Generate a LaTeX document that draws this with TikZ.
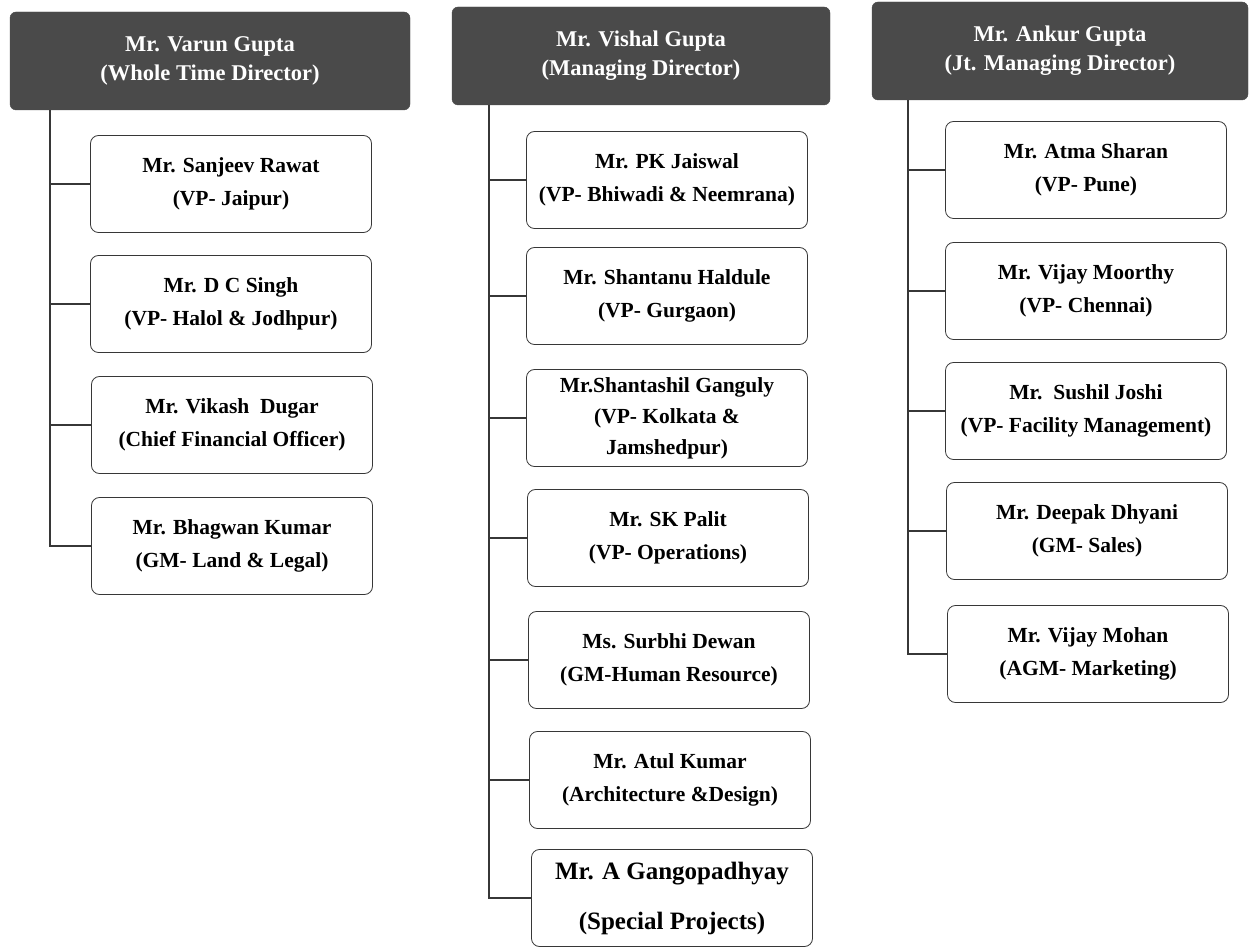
\documentclass[tikz,border=0pt]{standalone}
\usepackage{fontspec}
\setmainfont{Liberation Serif}
\definecolor{headgray}{RGB}{74,74,74}
\definecolor{linegray}{RGB}{55,55,55}

\begin{document}
\begin{tikzpicture}[x=1pt, y=-1pt,
    head/.style={draw=headgray, fill=headgray, rounded corners=6pt, text=white,
      font=\fontsize{22.5}{29}\selectfont\bfseries, align=center,
      minimum width=378pt, minimum height=98pt, inner sep=0pt},
    member/.style={draw=linegray, line width=0.8pt, rounded corners=8pt,
      font=\fontsize{21.5}{33}\selectfont\bfseries, align=center,
      minimum width=281pt, minimum height=97pt, inner sep=0pt},
    link/.style={draw=linegray, line width=1.1pt}]
    \useasboundingbox (0,0) rectangle (1254,949);

    % directors
    \node[head, minimum width=400pt] (HeadA) at (210,61) {Mr. Varun Gupta\\(Whole Time Director)};
    \node[head] (HeadB) at (641,56) {Mr. Vishal Gupta\\(Managing Director)};
    \node[head, minimum width=376pt] (HeadC) at (1060,51) {Mr. Ankur Gupta\\(Jt. Managing Director)};

    % first column
    \node[member] (A1) at (231,184) {Mr. Sanjeev Rawat\\(VP- Jaipur)};
    \node[member] (A2) at (231,304) {Mr. D C Singh\\(VP- Halol \& Jodhpur)};
    \node[member] (A3) at (232,425) {Mr. Vikash\ \ Dugar\\(Chief Financial Officer)};
    \node[member] (A4) at (232,546) {Mr. Bhagwan Kumar\\(GM- Land \& Legal)};

    % second column
    \node[member] (B1) at (667,180) {Mr. PK Jaiswal\\(VP- Bhiwadi \& Neemrana)};
    \node[member] (B2) at (667,296) {Mr. Shantanu Haldule\\(VP- Gurgaon)};
    \node[member, font=\fontsize{21.5}{31}\selectfont\bfseries] (B3) at (667,418)
      {Mr.Shantashil Ganguly\\(VP- Kolkata \&\\Jamshedpur)};
    \node[member] (B4) at (668,538) {Mr. SK Palit\\(VP- Operations)};
    \node[member] (B5) at (669,660) {Ms. Surbhi Dewan\\(GM-Human Resource)};
    \node[member] (B6) at (670,780) {Mr. Atul Kumar\\(Architecture \&Design)};
    \node[member, font=\fontsize{25}{50}\selectfont\bfseries] (B7) at (672,898)
      {Mr. A Gangopadhyay\\(Special Projects)};

    % third column
    \node[member] (C1) at (1086,170) {Mr. Atma Sharan\\(VP- Pune)};
    \node[member] (C2) at (1086,291) {Mr. Vijay Moorthy\\(VP- Chennai)};
    \node[member] (C3) at (1086,411) {Mr.\ \ Sushil Joshi\\(VP- Facility Management)};
    \node[member] (C4) at (1087,531) {Mr. Deepak Dhyani\\(GM- Sales)};
    \node[member] (C5) at (1088,654) {Mr. Vijay Mohan\\(AGM- Marketing)};

    % trunks
    \coordinate (TrunkA) at (HeadA.south -| 50,0);
    \coordinate (TrunkB) at (HeadB.south -| 489,0);
    \coordinate (TrunkC) at (HeadC.south -| 908,0);

    \foreach \i in {1,...,4} \draw[link] (TrunkA) |- (A\i.west);
    \foreach \i in {1,...,7} \draw[link] (TrunkB) |- (B\i.west);
    \foreach \i in {1,...,5} \draw[link] (TrunkC) |- (C\i.west);

  \end{tikzpicture}
\end{document}
